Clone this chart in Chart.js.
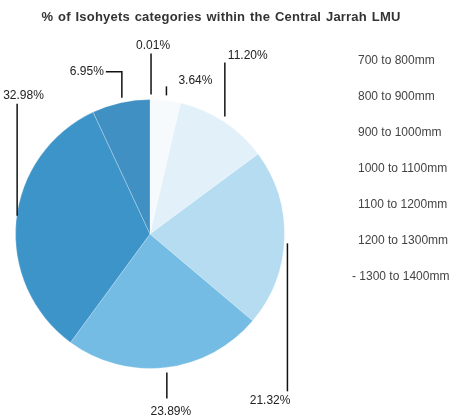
<!DOCTYPE html>
<html>
<head>
<meta charset="utf-8">
<script src="https://cdn.jsdelivr.net/npm/chart.js@4/dist/chart.umd.min.js"></script>
<style>
  body { margin: 0; background: #fff; }
  #wrap { position: relative; width: 462px; height: 416px; overflow: hidden; font-family: "Liberation Sans", Arial, sans-serif; }
  #title { position: absolute; left: 0; top: 9px; width: 442px; text-align: center; font-weight: bold; font-size: 13px; line-height: 16px; color: #333; letter-spacing: 0.2px; word-spacing: 1px; }
  #legend { position: absolute; left: 358px; top: 52px; margin: 0; padding: 0; list-style: none; font-size: 12px; color: #444; }
  #legend li { height: 36px; line-height: 16px; white-space: nowrap; }
  #legend li.dash { margin-left: -6px; }
  canvas { position: absolute; left: 0; top: 0; }
</style>
</head>
<body>
<div id="wrap">
  <canvas id="pie-chart" width="462" height="416"></canvas>
  <div id="title">% of Isohyets categories within the Central Jarrah LMU</div>
  <ul id="legend"></ul>
</div>
<script>
const categories = ['700 to 800mm', '800 to 900mm', '900 to 1000mm', '1000 to 1100mm',
                    '1100 to 1200mm', '1200 to 1300mm', '1300 to 1400mm'];
const shares = [0.01, 3.64, 11.20, 21.32, 23.89, 32.98, 6.95];

const sliceColours = ['#ffffff', '#f6fafd', '#e2f0f9', '#b6dcf1', '#74bce3', '#3d94c8', '#4190c4'];

// leader line per slice: vertical length, then where the text sits
const leaders = [
    {len: 41, dx: 2, align: 'center', gap: 8},
    {len: 9, dx: 12, align: 'left', gap: 6},
    {len: 54, dx: 3, align: 'left', gap: 7},
    {len: 148, dx: 3, align: 'right', gap: 9},
    {len: 26, dx: 4, align: 'center', gap: 13},
    {len: 112, dx: -14, align: 'left', gap: 8},
    {len: 26, dx: 0, align: 'right', gap: 0, hook: 16}
];

const leaderLabels = {
    id: 'leaderLabels',
    afterDatasetsDraw(chart) {
        const ctx = chart.ctx;
        const meta = chart.getDatasetMeta(0);
        const values = chart.data.datasets[0].data;
        ctx.save();
        ctx.strokeStyle = '#111';
        ctx.lineWidth = 1.5;
        ctx.fillStyle = '#222';
        ctx.font = '12px "Liberation Sans", Arial, sans-serif';
        ctx.textBaseline = 'middle';
        meta.data.forEach((arc, i) => {
            const p = arc.getProps(['x', 'y', 'startAngle', 'endAngle', 'outerRadius'], true);
            const mid = (p.startAngle + p.endAngle) / 2;
            const ex = p.x + Math.cos(mid) * p.outerRadius;
            const ey = p.y + Math.sin(mid) * p.outerRadius;
            const dir = ey < p.y ? -1 : 1;
            const l = leaders[i];
            const lx = ex + (l.align === 'right' && !l.hook ? 3 : 1);
            const y0 = ey + dir * 5;
            const y1 = y0 + dir * l.len;
            ctx.beginPath();
            ctx.moveTo(lx, y0);
            ctx.lineTo(lx, y1);
            let tx = lx + l.dx;
            let ty = y1 + dir * l.gap;
            if (l.hook) {
                ctx.lineTo(lx - l.hook, y1);
                tx = lx - l.hook - 2;
                ty = y1;
            }
            ctx.stroke();
            ctx.textAlign = l.align;
            ctx.fillText(values[i].toFixed(2) + '%', tx, ty);
        });
        ctx.restore();
    }
};

const legend = document.getElementById('legend');
categories.forEach((c, i) => {
    const li = document.createElement('li');
    // the last entry keeps the small mark left of it in the scan
    if (i === categories.length - 1) {
        li.className = 'dash';
        li.textContent = '- ' + c;
    } else {
        li.textContent = c;
    }
    legend.appendChild(li);
});

let ctx = document.getElementById('pie-chart').getContext('2d');
new Chart(ctx, {
    type: 'pie',
    data: {
        labels: categories,
        datasets: [{
            data: shares,
            backgroundColor: sliceColours,
            borderColor: 'rgba(255,255,255,0.25)',
            borderWidth: 1
        }]
    },
    options: {
        responsive: false,
        animation: false,
        layout: {padding: {left: 15, right: 177, top: 98, bottom: 46}},
        plugins: {
            legend: {display: false},
            title: {display: false},
            tooltip: {enabled: false}
        }
    },
    plugins: [leaderLabels]
});
</script>
</body>
</html>
